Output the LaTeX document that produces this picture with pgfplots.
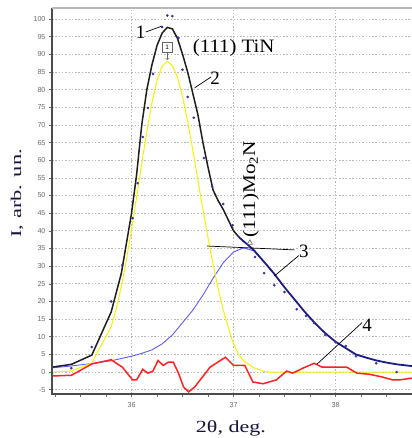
\documentclass[border=0pt]{standalone}
\usepackage{pgfplots}
\pgfplotsset{compat=1.18}
\usepackage{fontspec}
\setmainfont{Liberation Serif}
\setsansfont{Liberation Sans}
\definecolor{fitblack}{HTML}{1E1E1E}
\definecolor{tinyellow}{HTML}{F4F400}
\definecolor{moblue}{HTML}{5C5CFF}
\definecolor{navyfit}{HTML}{1C1C84}
\definecolor{resred}{HTML}{FF2222}
\definecolor{dotblue}{HTML}{3434A8}
\definecolor{labcol}{HTML}{14143C}
\definecolor{tickcol}{HTML}{6A6A6A}
\begin{document}
\begin{tikzpicture}
\begin{axis}[
  at={(52bp,44bp)}, anchor=south west,
  scale only axis, width=360bp, height=386bp,
  xmin=35.22, xmax=38.75, ymin=-6.2, ymax=103.1,
  clip=false,
  axis line style={draw=none},
  xtick={36,37,38},
  minor xtick={35.25,35.5,35.75,36.25,36.5,36.75,37.25,37.5,37.75,38.25,38.5},
  ytick={-5,0,5,10,15,20,25,30,35,40,45,50,55,60,65,70,75,80,85,90,95,100},
  xtick pos=bottom, ytick pos=left,
  tick align=outside,
  major tick length=3bp, minor tick length=3bp,
  every tick/.style={tickcol, line width=0.6bp},
  xmajorgrids, ymajorgrids,
  major grid style={gray!55, line width=0.7bp, dash pattern=on 1.5bp off 1.8bp},
  /pgf/number format/assume math mode=true,
  ticklabel style={font=\fontsize{7.2}{8}\selectfont\sffamily, text=tickcol},
  xticklabel style={yshift=-2bp},
]
% Mo2N component (light blue)
\addplot[moblue, line width=0.9bp] coordinates {
(35.22,1.2) (35.40,1.7) (35.60,2.4) (35.80,3.2) (36.00,4.5) (36.10,5.3) (36.20,6.3)
(36.30,8.0) (36.40,10.5) (36.50,14.0) (36.60,17.5) (36.70,21.8) (36.80,26.6)
(36.90,31.0) (37.00,34.0) (37.10,35.2) (37.20,34.3) (37.30,31.2) (37.40,27.8)};
% TiN component (yellow)
\addplot[tinyellow, line width=1bp] coordinates {
(35.22,0) (35.41,0.3) (35.61,2.6) (35.80,12.8) (35.85,17.9) (35.90,24.2) (35.95,31.8)
(36.00,40.3) (36.05,49.6) (36.10,59.1) (36.15,68.2) (36.20,76.3) (36.25,82.6)
(36.30,86.6) (36.35,88.0) (36.40,86.8) (36.45,83.5) (36.50,78.0) (36.55,71.0)
(36.60,63.0) (36.65,54.5) (36.70,46.0) (36.75,38.0) (36.80,30.5) (36.85,23.5)
(36.90,17.5) (36.95,12.5) (37.00,8.0) (37.05,5.0) (37.10,3.2) (37.20,1.2)
(37.30,0.2) (37.35,0) (38.75,0)};
% residual (red)
\addplot[resred, line width=1.5bp] coordinates {
(35.22,-1.1) (35.41,-0.9) (35.61,2.3) (35.80,3.5) (35.91,1.4) (36.01,-2.2) (36.05,-2.2)
(36.11,0.8) (36.16,-0.3) (36.21,0.3) (36.26,3.3) (36.31,1.9) (36.36,2.8) (36.41,2.8)
(36.46,-0.3) (36.51,-4.2) (36.56,-5.6) (36.62,-4.2) (36.77,1.4) (36.92,4.2) (37.00,1.9)
(37.11,1.9) (37.19,-2.8) (37.29,-3.3) (37.42,-2.2) (37.52,0.3) (37.58,-0.3) (37.68,1.1)
(37.79,2.5) (37.87,1.4) (37.97,1.4) (38.11,1.4) (38.21,-0.3) (38.33,-0.6) (38.46,-1.4)
(38.56,-2.2) (38.63,-2.2) (38.75,-1.7)};
% total fit (black part)
\addplot[fitblack, line width=1.5bp] coordinates {
(35.22,1.4) (35.41,2.2) (35.61,4.8) (35.80,17.0) (35.90,28.0) (36.00,45.0) (36.05,56.0)
(36.10,70.0) (36.15,80.0) (36.20,87.0) (36.25,92.5) (36.30,96.0) (36.35,97.6) (36.40,97.2)
(36.45,94.5) (36.50,90.0) (36.55,85.0) (36.60,79.0) (36.65,73.0) (36.70,65.0) (36.75,58.0)
(36.80,51.5) (36.85,48.5) (36.90,46.0) (36.95,43.0) (37.00,40.0) (37.05,38.3)};
% total fit (navy part)
\addplot[navyfit, line width=1.8bp] coordinates {
(37.05,38.3) (37.10,37.0) (37.15,35.8) (37.20,34.5) (37.30,31.2) (37.40,27.8) (37.50,24.0)
(37.60,20.5) (37.70,17.0) (37.80,13.8) (37.90,11.0) (38.00,8.6) (38.10,6.8) (38.20,5.0)
(38.30,4.1) (38.40,3.3) (38.50,2.7) (38.60,2.2) (38.75,1.7)};
% measured points
\addplot[only marks, mark=*, mark size=1.1bp, dotblue] coordinates {
(35.41,1.1) (35.61,7.1) (35.80,20.0) (35.91,30.3) (36.01,43.6) (36.06,53.5) (36.11,66.6)
(36.16,74.8) (36.21,84.4) (36.30,97.7) (36.35,101.0) (36.40,100.8) (36.46,94.6)
(36.50,85.6) (36.55,77.9) (36.61,72.0) (36.71,60.6) (36.79,52.6) (36.90,47.6)
(36.99,41.6) (37.21,32.6) (37.30,28.0) (37.40,24.6) (37.50,22.7) (37.62,17.8)
(37.71,15.9) (37.79,13.9) (37.90,10.5) (38.00,8.5) (38.10,7.4) (38.20,4.5) (38.40,2.5)
(38.60,0.0)};
% triangle marker at Mo2N peak
\addplot[only marks, mark=triangle, mark size=3bp, gray!70!black, line width=0.6bp] coordinates {(37.16,36.6)};
% frame
\draw[line width=1.6bp, black!70] (rel axis cs:0,1) -- (rel axis cs:0,0) -- (rel axis cs:1,0);
\draw[line width=1.4bp, gray!55] (rel axis cs:0,1) -- (rel axis cs:1,1);
% annotations
\node[font=\fontsize{19}{20}\selectfont] at (axis cs:36.09,96.3) {1};
\draw[line width=0.7bp] (axis cs:36.14,96.3) -- (axis cs:36.30,98.0);
\node[draw=gray!80!black, fill=white, font=\fontsize{6.5}{6.5}\selectfont\sffamily, minimum size=10bp, inner sep=0pt, line width=0.6bp] at (axis cs:36.35,91.9) {1};
\draw[->, line width=0.5bp, gray!80!black] (axis cs:36.35,90.5) -- (axis cs:36.35,88.4);
\node[font=\fontsize{19}{20}\selectfont, anchor=west, inner sep=0pt] at (axis cs:36.60,91.8) {\scalebox{1.1}[1]{(111) TiN}};
\node[font=\fontsize{19}{20}\selectfont] at (axis cs:36.82,83.3) {2};
\draw[line width=0.7bp] (axis cs:36.62,80.5) -- (axis cs:36.78,83.6);
\node[font=\fontsize{18}{18}\selectfont, rotate=90, anchor=west, inner sep=0pt] at (axis cs:37.17,38.0) {\scalebox{1.18}[1]{(111)Mo\textsubscript{2}N}};
\draw[line width=0.7bp] (axis cs:36.74,35.7) -- (axis cs:37.60,34.6);
\node[font=\fontsize{19}{20}\selectfont] at (axis cs:37.69,34.3) {3};
\draw[line width=0.7bp] (axis cs:37.64,33.0) -- (axis cs:37.40,27.2);
\node[font=\fontsize{19}{20}\selectfont] at (axis cs:38.31,13.3) {4};
\draw[line width=0.7bp] (axis cs:38.26,14.0) -- (axis cs:37.82,2.3);
% axis labels
\node[rotate=90, font=\fontsize{15}{16}\selectfont, text=labcol] at ([xshift=-35bp]rel axis cs:0,0.52) {\scalebox{1.5}[1]{I, arb. un.}};
\node[font=\fontsize{17}{18}\selectfont, text=labcol] at ([yshift=-34bp]rel axis cs:0.497,0) {\scalebox{1.3}[1]{2θ, deg.}};
\end{axis}
\pgfresetboundingbox
\path[use as bounding box] (0,0) rectangle (412bp,438bp);
\end{tikzpicture}
\end{document}
